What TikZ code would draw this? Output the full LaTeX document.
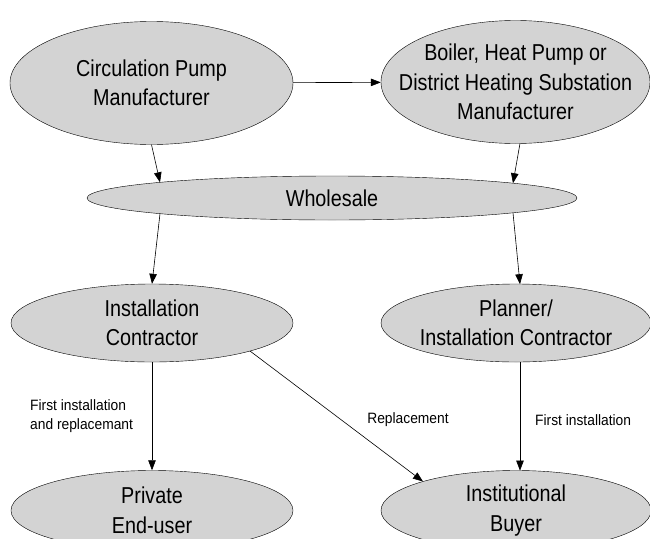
\documentclass[tikz,border=0pt]{standalone}
\usepackage{fontspec}
\setmainfont{Liberation Sans}
\newfontfamily\ovalfont{Liberation Sans}[FakeStretch=0.86]
\newfontfamily\notefont{Liberation Sans}[FakeStretch=0.92]
\usepackage{tikz}
\usepackage{xcolor}
\usetikzlibrary{shapes, arrows.meta, calc}

\definecolor{ovalgray}{RGB}{211,211,211}

\begin{document}
\begin{tikzpicture}[x=1pt, y=-1pt,
                oval/.style={ellipse, draw, fill=ovalgray, inner sep=-60pt, align=center,
                        font=\ovalfont\fontsize{23}{29.5}\selectfont},
                note/.style={font=\notefont\fontsize{15}{18.5}\selectfont, align=left, inner sep=0pt},
                flow/.style={-{Triangle[length=10pt, width=7.5pt]}, line width=0.6pt}]
                \useasboundingbox (0, 0) rectangle (650, 538);

                \node[oval, minimum width=283pt, minimum height=123pt] (pump) at (151.5, 83) {Circulation Pump\\Manufacturer};
                \node[oval, minimum width=269pt, minimum height=123pt] (boiler) at (515.5, 82) {Boiler, Heat Pump or\\District Heating Substation\\Manufacturer};
                \node[oval, minimum width=490pt, minimum height=44pt] (whole) at (332, 198) {Wholesale};
                \node[oval, minimum width=282pt, minimum height=78pt] (inst) at (152, 323) {Installation\\Contractor};
                \node[oval, minimum width=270pt, minimum height=78pt] (plan) at (516, 323) {Planner/\\Installation Contractor};
                \node[oval, minimum width=282pt, minimum height=80pt] (priv) at (152, 510.5) {Private\\End-user};
                \node[oval, minimum width=270pt, minimum height=80pt] (buyer) at (516, 510.5) {Institutional\\Buyer};

                \node[note, anchor=west] (firstrep) at (30, 416) {First installation\\and replacemant};
                \node[note] (repl) at (408, 420) {Replacement};
                \node[note, anchor=west] (first) at (535, 420) {First installation};

                % offsets along the ellipse borders
                \draw[flow] (pump) -- (boiler);
                \draw[flow] (pump.south) -- ($(whole.center)+(-172,-15.7)$);
                \draw[flow] ($(boiler.center)+(4.5,61.4)$) -- ($(whole.center)+(181,-14.8)$);
                \draw[flow] ($(whole.center)+(-172,15.7)$) -- (inst.north);
                \draw[flow] ($(whole.center)+(181,14.8)$) -- ($(plan.center)+(4,-38.8)$);
                \draw[flow] (inst.south) -- (priv.north);
                \draw[flow] ($(inst.center)+(98,28)$) -- ($(buyer.center)+(-93,-29)$);
                \draw[flow] ($(plan.center)+(4,38.8)$) -- ($(buyer.center)+(4,-39.9)$);
            \end{tikzpicture}
\end{document}
